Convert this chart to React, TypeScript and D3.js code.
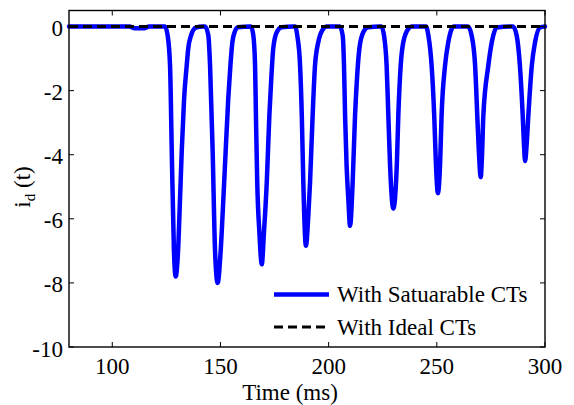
import React from "react";
import * as d3 from "d3";

// i_d(t) with saturable CTs: [time ms, value]
const saturable: [number, number][] = [
  [80, 0], [108, 0], [110, -0.05], [115, -0.05], [117, 0],
  // dip 1
  [124.4, 0], [125.6, -0.28], [126.7, -1.22], [127.5, -3.9], [128.5, -7.0], [129.3, -7.8],
  [130.4, -7.0], [131.3, -5.4], [132.1, -3.9], [133.2, -2.25], [134.4, -1.22], [135.1, -0.69],
  [136.4, -0.28], [138.7, -0.03], [141.9, 0],
  // dip 2
  [142.9, 0], [144.4, -0.28], [145.2, -1.22], [146.4, -3.9], [147.5, -7.0], [148.7, -8.0],
  [150.1, -7.0], [151.3, -5.44], [152.4, -3.9], [153.6, -2.26], [154.6, -1.22], [155.5, -0.49],
  [156.7, -0.15], [158.1, -0.02], [163.7, 0],
  // dip 3
  [164.1, 0], [165.2, -0.28], [166.0, -1.22], [166.4, -2.78], [167.0, -4.87], [168.0, -6.43],
  [169.1, -7.42], [170.1, -6.43], [171.4, -4.87], [172.6, -2.78], [173.4, -1.74], [174.4, -0.69],
  [176.0, -0.18], [178.3, -0.02], [183.7, 0],
  // dip 4
  [184.5, 0], [185.5, -0.28], [186.8, -1.22], [187.6, -2.78], [188.3, -4.87], [189.5, -6.84],
  [190.6, -5.91], [191.4, -4.87], [192.6, -2.78], [193.7, -1.22], [195.2, -0.49], [197.5, -0.07],
  [199.1, 0], [205.2, 0],
  // dip 5
  [206.5, -0.28], [207.1, -1.22], [207.6, -2.78], [208.3, -4.34], [209.1, -5.38], [209.9, -6.22],
  [211.1, -4.87], [212.2, -2.78], [213.0, -1.74], [214.2, -0.69], [216.0, -0.18], [218.3, -0.02],
  [223.7, 0],
  // dip 6
  [224.4, 0], [225.6, -0.28], [226.8, -1.22], [227.6, -2.78], [228.4, -4.34], [229.9, -5.68],
  [231.5, -4.34], [232.2, -2.78], [233.3, -1.22], [234.5, -0.49], [236.8, -0.07], [238.4, 0],
  [245.0, 0],
  // dip 7
  [246.1, -0.28], [247.6, -1.22], [248.8, -2.78], [249.6, -4.3], [250.5, -5.2], [251.5, -4.3],
  [252.2, -2.78], [253.8, -1.22], [255.3, -0.49], [256.9, -0.07], [257.6, 0], [264.4, 0],
  // dip 8
  [266.1, -0.28], [267.7, -1.22], [268.7, -2.78], [269.5, -4.0], [270.3, -4.7], [270.9, -4.0],
  [271.5, -2.78], [273.8, -1.22], [275.4, -0.49], [277.7, -0.03], [285.2, 0],
  // dip 9
  [286.9, -0.28], [288.4, -1.22], [289.7, -2.78], [290.3, -3.7], [290.8, -4.2], [291.5, -3.7],
  [292.3, -2.78], [293.9, -1.22], [295.4, -0.49], [297.7, -0.03], [300, 0],
];

// ideal CTs: differential current stays at zero
const ideal: [number, number][] = [[80, 0], [300, 0]];

const xTicks = [100, 150, 200, 250, 300];
const yTicks = [-10, -8, -6, -4, -2, 0];
const legendLabels = ["With Satuarable CTs", "With Ideal CTs"];

const W = 574, H = 405;
const font = "'Liberation Serif', 'Times New Roman', serif";

export default function App() {
  const x = d3.scaleLinear().domain([80, 300]).range([69, 545]);
  const y = d3.scaleLinear().domain([-10, 0.5]).range([347, 10.5]);
  const [x0, x1] = x.range();
  const [yb, yt] = y.range();

  const line = d3.line<[number, number]>()
    .x(d => x(d[0]))
    .y(d => y(d[1]))
    .curve(d3.curveMonotoneX);

  return (
    <svg width={W} height={H} style={{position: "absolute", left: 0, top: 0, background: "#fff"}}
         fontFamily={font} fontSize={23}>
      <rect x={0} y={0} width={W} height={H} fill="#fff"/>
      <path d={line(saturable) || ""} fill="none" stroke="#0000ff" strokeWidth={4.5}
            strokeLinejoin="round" strokeLinecap="round"/>
      <path d={line(ideal) || ""} fill="none" stroke="#000" strokeWidth={3.2}
            strokeDasharray="9,5"/>

      {/* box + ticks */}
      <rect x={x0} y={yt} width={x1 - x0} height={yb - yt} fill="none" stroke="#000" strokeWidth={1.4}/>
      {xTicks.map(t => (
        <g key={"x" + t}>
          <line x1={x(t)} x2={x(t)} y1={yb} y2={yb - 5} stroke="#000" strokeWidth={1}/>
          <line x1={x(t)} x2={x(t)} y1={yt} y2={yt + 5} stroke="#000" strokeWidth={1}/>
          <text x={x(t)} y={374} textAnchor="middle">{t}</text>
        </g>
      ))}
      {yTicks.map(t => (
        <g key={"y" + t}>
          <line x1={x0} x2={x0 + 5} y1={y(t)} y2={y(t)} stroke="#000" strokeWidth={1}/>
          <line x1={x1} x2={x1 - 5} y1={y(t)} y2={y(t)} stroke="#000" strokeWidth={1}/>
          <text x={63} y={y(t) + 9.5} textAnchor="end">{t}</text>
        </g>
      ))}

      <text x={290} y={400} textAnchor="middle">Time (ms)</text>
      <text transform="translate(30,187) rotate(-90)" textAnchor="middle">
        <tspan>i</tspan>
        <tspan dy={5} fontSize={15}>d</tspan>
        <tspan dy={-5}> (t)</tspan>
      </text>

      {/* legend */}
      <line x1={274} x2={329} y1={294.5} y2={294.5} stroke="#0000ff" strokeWidth={4.5}/>
      <text x={337} y={302}>{legendLabels[0]}</text>
      <line x1={274} x2={329} y1={327} y2={327} stroke="#000" strokeWidth={3.2} strokeDasharray="9,5"/>
      <text x={337} y={335}>{legendLabels[1]}</text>
    </svg>
  );
}
